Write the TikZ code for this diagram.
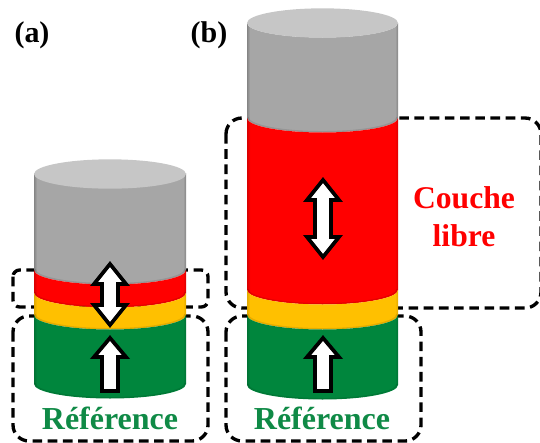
\documentclass[tikz,border=0pt]{standalone}
\usepackage{fontspec}
\setmainfont{Liberation Serif}
\definecolor{cgrey}{HTML}{A6A6A6}
\definecolor{ccap}{HTML}{C6C6C6}
\definecolor{cred}{HTML}{FF0000}
\definecolor{cyel}{HTML}{FFC000}
\definecolor{cgrn}{HTML}{00863D}
\definecolor{tgrn}{HTML}{0F8A46}
\pgfdeclarehorizontalshading{sgrey}{100bp}{color(0bp)=(cgrey!80!black); color(25bp)=(cgrey!80!black); color(26bp)=(cgrey); color(74bp)=(cgrey); color(75bp)=(cgrey!80!black); color(100bp)=(cgrey!80!black)}
\pgfdeclarehorizontalshading{sred}{100bp}{color(0bp)=(cred!85!black); color(25bp)=(cred!85!black); color(26bp)=(cred); color(74bp)=(cred); color(75bp)=(cred!85!black); color(100bp)=(cred!85!black)}
\pgfdeclarehorizontalshading{syel}{100bp}{color(0bp)=(cyel!88!black); color(25bp)=(cyel!88!black); color(26bp)=(cyel); color(74bp)=(cyel); color(75bp)=(cyel!88!black); color(100bp)=(cyel!88!black)}
\pgfdeclarehorizontalshading{sgrn}{100bp}{color(0bp)=(cgrn!85!black); color(25bp)=(cgrn!85!black); color(26bp)=(cgrn); color(74bp)=(cgrn); color(75bp)=(cgrn!85!black); color(100bp)=(cgrn!85!black)}
% centre x, half width, y top at the side, y bottom at the side, shading
\newcommand{\cylband}[5]{%
  \path[shading=#5] (#1-#2,#3) arc[start angle=180,end angle=360,x radius=#2*0.75pt,y radius=14.5*0.75pt]
    -- (#1+#2,#4) arc[start angle=360,end angle=180,x radius=#2*0.75pt,y radius=14.5*0.75pt] -- cycle;
  \draw[black,line width=1pt,opacity=.1] (#1-#2+1,#4-0.8) arc[start angle=180,end angle=360,x radius=#2*0.75pt-0.75pt,y radius=14.5*0.75pt];
}
\newcommand{\uparrowshape}[2]{% centre x, bottom y
  \draw[flux] (#1-8,#2) -- (#1-8,#2-34) -- (#1-16,#2-34) -- (#1,#2-53) -- (#1+16,#2-34) -- (#1+8,#2-34) -- (#1+8,#2) -- cycle;
}
\newcommand{\bothshape}[3]{% centre x, top y, bottom y
  \draw[flux] (#1,#2) -- (#1+16,#2+20) -- (#1+8,#2+20) -- (#1+8,#3-20) -- (#1+16,#3-20) -- (#1,#3) -- (#1-16,#3-20) -- (#1-8,#3-20) -- (#1-8,#2+20) -- (#1-16,#2+20) -- cycle;
}
\tikzset{
  x=0.75pt,y=-0.75pt,
  dbox/.style={draw=black,line width=2.5pt,dash pattern=on 7.2pt off 4.2pt,rounded corners=12pt},
  dboxs/.style={draw=black,line width=2.5pt,dash pattern=on 7.2pt off 4.2pt,rounded corners=5pt},
  flux/.style={draw=black,fill=white,line width=2.8pt,miter limit=10},
  topcap/.style={fill=ccap},
  lab/.style={font=\fontsize{22.5}{26}\selectfont\bfseries,text=black,inner sep=0pt},
  reftxt/.style={font=\fontsize{24}{28}\selectfont\bfseries,text=tgrn,inner sep=0pt},
  freetxt/.style={font=\fontsize{23.7}{28}\selectfont\bfseries,text=cred,inner sep=0pt}
}
\begin{document}
\begin{tikzpicture}
\useasboundingbox (0,0) rectangle (540,443);
\clip (0,0) rectangle (540,443);
% dashed frames
\draw[dboxs] (13,270) rectangle (208,307);
\draw[dbox] (13,316) rectangle (208,441);
\draw[dbox] (226,118) rectangle (541,308);
\draw[dbox] (226,316) rectangle (421,441);
% cylinder a
\cylband{110}{76}{173}{270}{sgrey}
\cylband{110}{76}{270}{293}{sred}
\cylband{110}{76}{293}{315}{syel}
\cylband{110}{76}{315}{384}{sgrn}
\path[topcap] (110,174) ellipse[x radius=57pt,y radius=11pt];
% cylinder b
\cylband{322.5}{75.5}{23}{118}{sgrey}
\cylband{322.5}{75.5}{118}{290}{sred}
\cylband{322.5}{75.5}{290}{315}{syel}
\cylband{322.5}{75.5}{315}{385}{sgrn}
\path[topcap] (322.5,23) ellipse[x radius=56.6pt,y radius=11pt];
% arrows
\bothshape{110}{264}{325}
\uparrowshape{110}{391}
\bothshape{323}{180}{257}
\uparrowshape{323}{391}
% texts
\node[lab] (a) at (32,35) {(a)};
\node[lab] (b) at (209,35) {(b)};
\node[reftxt] (refa) at (110,418) {Référence};
\node[reftxt] (refb) at (322,418) {Référence};
\node[freetxt] (c1) at (464,198) {Couche};
\node[freetxt] (c2) at (464,236) {libre};
\end{tikzpicture}
\end{document}
